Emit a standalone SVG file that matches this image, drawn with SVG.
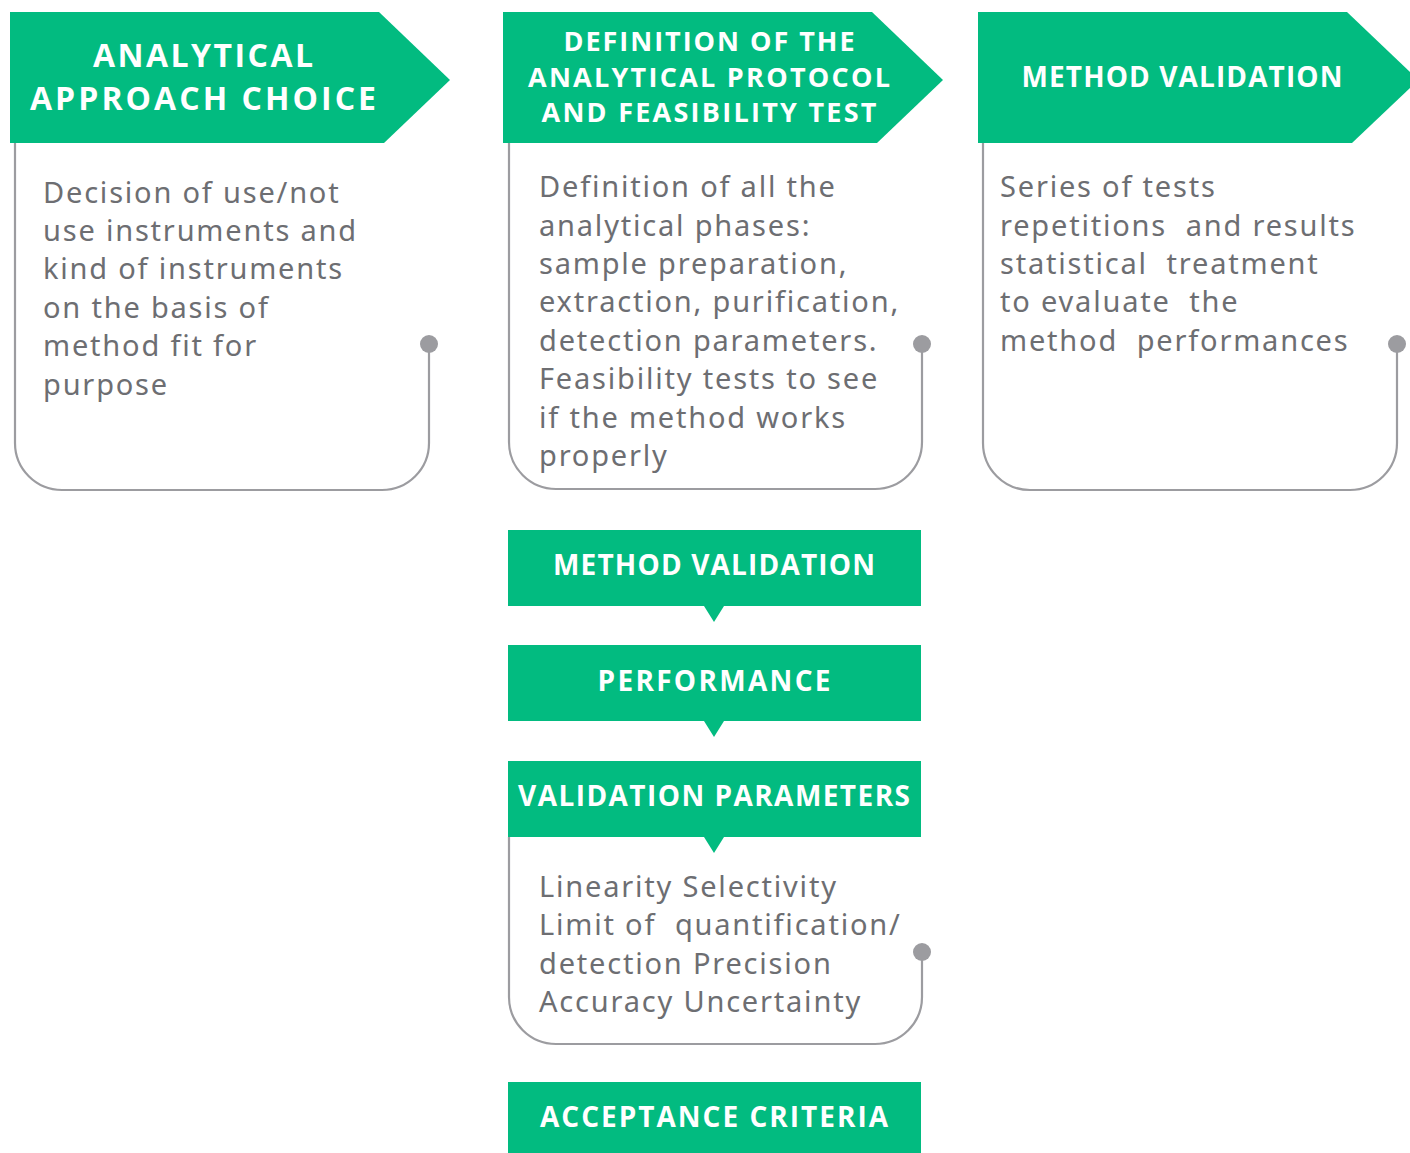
<svg xmlns="http://www.w3.org/2000/svg" width="1410" height="1153" viewBox="0 0 1410 1153">
<style>
.hdr{fill:#02bb80}
.hd{font-family:"Open Sans","Liberation Sans",sans-serif;font-weight:700;fill:#fff;text-anchor:middle;font-size:28px}
.bd{font-family:"Noto Sans","Liberation Sans",sans-serif;font-weight:400;fill:#6d6e72;font-size:29px;letter-spacing:1.8px;white-space:pre}
.ln{fill:none;stroke:#9c9ca0;stroke-width:2.2}
.dot{fill:#9c9ca0}
</style>
<rect width="1410" height="1153" fill="#fff"/>
<g id="connectors">
<path class="ln" d="M15,143 V443 A47,47 0 0 0 62,490 H382 A47,47 0 0 0 429,443 V344"/>
<path class="ln" d="M509,143 V442 A47,47 0 0 0 556,489 H875 A47,47 0 0 0 922,442 V344"/>
<path class="ln" d="M983,143 V443 A47,47 0 0 0 1030,490 H1350 A47,47 0 0 0 1397,443 V344"/>
<path class="ln" d="M509,837 V997 A47,47 0 0 0 556,1044 H875 A47,47 0 0 0 922,997 V952"/>
<circle class="dot" cx="429" cy="344" r="9"/>
<circle class="dot" cx="922" cy="344" r="9"/>
<circle class="dot" cx="1397" cy="344" r="9"/>
<circle class="dot" cx="922" cy="952" r="9"/>
</g>
<g id="n1">
<polygon class="hdr" points="10,12 379,12 450,80 384,143 10,143"/>
<text class="hd" style="font-size:32px" x="203" y="67" textLength="220">ANALYTICAL</text>
<text class="hd" style="font-size:32px" x="203" y="110" textLength="346">APPROACH CHOICE</text>
<text class="bd" x="43" y="203">Decision of use/not</text>
<text class="bd" x="43" y="241">use instruments and</text>
<text class="bd" x="43" y="279">kind of instruments</text>
<text class="bd" x="43" y="318">on the basis of</text>
<text class="bd" x="43" y="356">method fit for</text>
<text class="bd" x="43" y="395">purpose</text>
</g>
<g id="n2">
<polygon class="hdr" points="503,12 872,12 943,80 877,143 503,143"/>
<text class="hd" style="font-size:27px" x="709" y="51" textLength="291">DEFINITION OF THE</text>
<text class="hd" style="font-size:27px" x="709" y="87" textLength="362">ANALYTICAL PROTOCOL</text>
<text class="hd" style="font-size:27px" x="709" y="122" textLength="335">AND FEASIBILITY TEST</text>
<text class="bd" x="539" y="197">Definition of all the</text>
<text class="bd" x="539" y="236">analytical phases:</text>
<text class="bd" x="539" y="274">sample preparation,</text>
<text class="bd" x="539" y="312">extraction, purification,</text>
<text class="bd" x="539" y="351">detection parameters.</text>
<text class="bd" x="539" y="389">Feasibility tests to see</text>
<text class="bd" x="539" y="428">if the method works</text>
<text class="bd" x="539" y="466">properly</text>
</g>
<g id="n3">
<polygon class="hdr" points="978,12 1347,12 1410,72 1410,88 1352,143 978,143"/>
<text class="hd" x="1182" y="87" textLength="321">METHOD VALIDATION</text>
<text class="bd" x="1000" y="197">Series of tests</text>
<text class="bd" x="1000" y="236">repetitions  and results</text>
<text class="bd" x="1000" y="274">statistical  treatment</text>
<text class="bd" x="1000" y="312">to evaluate  the</text>
<text class="bd" x="1000" y="351">method  performances</text>
</g>
<g id="n4">
<polygon class="hdr" points="508,530 921,530 921,606 724,606 714,622 704,606 508,606"/>
<text class="hd" x="714" y="575" textLength="322">METHOD VALIDATION</text>
</g>
<g id="n5">
<polygon class="hdr" points="508,645 921,645 921,721 724,721 714,737 704,721 508,721"/>
<text class="hd" x="714" y="691" textLength="233">PERFORMANCE</text>
</g>
<g id="n6">
<polygon class="hdr" points="508,761 921,761 921,837 724,837 714,853 704,837 508,837"/>
<text class="hd" x="714" y="806" textLength="392">VALIDATION PARAMETERS</text>
<text class="bd" x="539" y="897">Linearity Selectivity</text>
<text class="bd" x="539" y="935">Limit of  quantification/</text>
<text class="bd" x="539" y="974">detection Precision</text>
<text class="bd" x="539" y="1012">Accuracy Uncertainty</text>
</g>
<g id="n7">
<rect class="hdr" x="508" y="1082" width="413" height="71"/>
<text class="hd" x="714" y="1127" textLength="348">ACCEPTANCE CRITERIA</text>
</g>
</svg>
